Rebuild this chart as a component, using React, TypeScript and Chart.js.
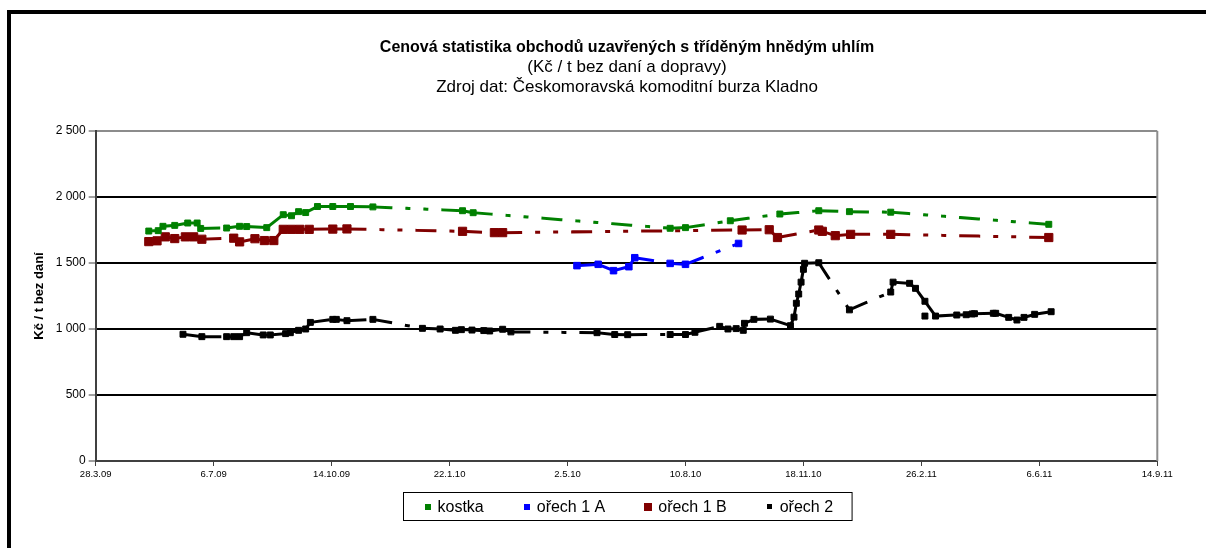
import React, { useEffect, useRef } from 'react';
import { Chart, registerables } from 'chart.js';

Chart.register(...registerables);

const FONT = '"Liberation Sans", Arial, Helvetica, sans-serif';

// ---------------- data ----------------
const START_DATE = '2009-03-28';

const X_TICK_LABELS = ['28.3.09', '6.7.09', '14.10.09', '22.1.10', '2.5.10', '10.8.10', '18.11.10', '26.2.11', '6.6.11', '14.9.11'];
const Y_TICK_LABELS = ['0', '500', '1 000', '1 500', '2 000', '2 500'];

const SERIES_NAMES = ['kostka', 'ořech 1 A', 'ořech 1 B', 'ořech 2'];
const SERIES_COLORS = ['#008000', '#0000ff', '#800000', '#000000'];

const kostkaDates = [
  '2009-05-12', '2009-05-20', '2009-05-24', '2009-06-03', '2009-06-14', '2009-06-22', '2009-06-25',
  '2009-07-17', '2009-07-28', '2009-08-03', '2009-08-20', '2009-09-03', '2009-09-10', '2009-09-16',
  '2009-09-22', '2009-10-02', '2009-10-15', '2009-10-30', '2009-11-18', '2010-02-02', '2010-02-11',
  '2010-07-28', '2010-08-10', '2010-09-17', '2010-10-29', '2010-12-01', '2010-12-27', '2011-01-31',
  '2011-06-14',
];
const kostkaValues = [
  1742, 1745, 1778, 1785, 1803, 1803, 1762,
  1765, 1778, 1776, 1768, 1866, 1858, 1889,
  1882, 1928, 1928, 1928, 1925, 1896, 1881,
  1763, 1768, 1820, 1871, 1896, 1889, 1885,
  1793,
];

const orech1ADates = [
  '2010-05-10', '2010-05-28', '2010-06-10', '2010-06-23', '2010-06-28', '2010-07-28', '2010-08-10', '2010-09-24',
];
const orech1AValues = [1480, 1490, 1442, 1472, 1540, 1497, 1490, 1648];

const orech1BDates = [
  '2009-05-12', '2009-05-19', '2009-05-26', '2009-06-03', '2009-06-12', '2009-06-19', '2009-06-26',
  '2009-07-23', '2009-07-28', '2009-08-10', '2009-08-18', '2009-08-26', '2009-09-03', '2009-09-10',
  '2009-09-17', '2009-09-25', '2009-10-15', '2009-10-27', '2010-02-02', '2010-03-01', '2010-03-08',
  '2010-09-27', '2010-10-20', '2010-10-27', '2010-12-01', '2010-12-04', '2010-12-15', '2010-12-28',
  '2011-01-31', '2011-06-14',
];
const orech1BValues = [
  1662, 1668, 1698, 1685, 1698, 1698, 1680,
  1688, 1660, 1684, 1670, 1670, 1755, 1755,
  1755, 1755, 1757, 1758, 1740, 1730, 1730,
  1750, 1752, 1693, 1750, 1740, 1707, 1717,
  1717, 1693,
];

const orech2Dates = [
  '2009-06-10', '2009-06-26', '2009-07-17', '2009-07-23', '2009-07-28', '2009-08-03', '2009-08-17',
  '2009-08-23', '2009-09-05', '2009-09-09', '2009-09-16', '2009-09-22', '2009-09-26', '2009-10-15',
  '2009-10-18', '2009-10-27', '2009-11-18', '2009-12-30', '2010-01-14', '2010-01-27', '2010-02-01',
  '2010-02-10', '2010-02-20', '2010-02-25', '2010-03-08', '2010-03-15', '2010-05-27', '2010-06-11',
  '2010-06-22', '2010-07-28', '2010-08-10', '2010-08-18', '2010-09-08', '2010-09-15', '2010-09-22',
  '2010-09-28', '2010-09-29', '2010-10-07', '2010-10-21', '2010-11-07', '2010-11-10', '2010-11-12',
  '2010-11-14', '2010-11-16', '2010-11-18', '2010-11-19', '2010-12-01', '2010-12-27', '2011-01-31',
  '2011-02-02', '2011-02-16', '2011-02-21', '2011-03-01', '2011-03-10', '2011-03-28', '2011-04-05',
  '2011-04-10', '2011-04-12', '2011-04-28', '2011-04-30', '2011-05-11', '2011-05-18', '2011-05-24',
  '2011-06-02', '2011-06-16',
];
const orech2Values = [
  960, 942, 942, 942, 942, 972, 955,
  955, 965, 972, 990, 1000, 1050, 1073,
  1073, 1063, 1073, 1005, 1000, 990, 995,
  992, 988, 985, 998, 978, 972, 958,
  957, 958, 958, 975, 1020, 1000, 1003,
  990, 1043, 1073, 1075, 1025, 1090, 1195,
  1265, 1355, 1452, 1498, 1502, 1145, 1280,
  1355, 1346, 1308, 1210, 1098, 1106, 1108,
  1114, 1116, 1119, 1119, 1088, 1068, 1088,
  1111, 1131,
];
// a lone trade drawn without connecting line
const orech2ExtraDates = ['2011-03-01'];
const orech2ExtraValues = [1098];

// ---------------- helpers ----------------
const DAY_MS = 86400000;
function toUTC(s: string) {
  const [y, m, d] = s.split('-').map(Number);
  return Date.UTC(y, m - 1, d);
}
const START_MS = toUTC(START_DATE);
function dayIndex(s: string) {
  return Math.round((toUTC(s) - START_MS) / DAY_MS);
}
function toPoints(dates: string[], values: number[]) {
  return dates.map((d, i) => ({ x: dayIndex(d), y: values[i] }));
}

// Excel "long dash dot dot" that restarts for every segment
const DASH = [18, 16, 2, 16, 2, 16];

function lineDataset(idx: number, dates: string[], values: number[], radius: number) {
  const color = SERIES_COLORS[idx];
  return {
    label: SERIES_NAMES[idx],
    data: toPoints(dates, values),
    borderColor: color,
    backgroundColor: color,
    borderWidth: 3,
    borderDash: DASH,
    borderCapStyle: 'square' as const,
    pointStyle: 'rect' as const,
    pointRadius: radius,
    pointBorderWidth: 1,
    pointBorderColor: color,
    pointBackgroundColor: color,
    tension: 0,
    segment: {
      borderDash: () => DASH,
      borderDashOffset: (c: any) => (c.p0DataIndex % 2 ? 0.01 : 0),
    },
  };
}

const LEGEND_MARKER = [6, 6, 8, 5];

const plotFramePlugin = {
  id: 'plotFrame',
  beforeDatasetsDraw(chart: any) {
    const { ctx, chartArea } = chart;
    ctx.save();
    ctx.strokeStyle = '#8c8c8c';
    ctx.lineWidth = 2;
    ctx.beginPath();
    ctx.moveTo(chartArea.right, chartArea.top);
    ctx.lineTo(chartArea.right, chartArea.bottom);
    ctx.stroke();
    ctx.restore();
  },
};

const boxLegendPlugin = {
  id: 'boxLegend',
  afterDraw(chart: any) {
    const { ctx, chartArea } = chart;
    ctx.save();
    ctx.font = `16px ${FONT}`;
    const widths = SERIES_NAMES.map((n) => ctx.measureText(n).width);
    const padL = 24;
    const markerToText = 10;
    const gap = 43;
    const padR = 19;
    const total = padL + widths.reduce((a, w) => a + markerToText + w, 0) + gap * (SERIES_NAMES.length - 1) + padR;
    const left = Math.round(chart.width / 2 - total / 2) + 0.5;
    const top = Math.round(chartArea.bottom + 31) + 0.5;
    const h = 28;
    ctx.strokeStyle = '#000';
    ctx.lineWidth = 1;
    ctx.strokeRect(left, top, total, h);
    const cy = top + h / 2;
    let cx = left + padL;
    ctx.textBaseline = 'middle';
    ctx.textAlign = 'left';
    SERIES_NAMES.forEach((name, i) => {
      const s = LEGEND_MARKER[i];
      ctx.fillStyle = SERIES_COLORS[i];
      ctx.fillRect(Math.round(cx - s / 2), Math.round(cy - s / 2), s, s);
      ctx.fillStyle = '#000';
      ctx.fillText(name, cx + markerToText, cy + 1);
      cx += markerToText + widths[i] + gap;
    });
    ctx.restore();
  },
};

export default function App() {
  const ref = useRef<HTMLCanvasElement>(null);

  useEffect(() => {
    if (!ref.current) return;
    const extra = lineDataset(3, orech2ExtraDates, orech2ExtraValues, 4.2);
    const chart = new Chart(ref.current, {
      type: 'line',
      data: {
        datasets: [
          lineDataset(0, kostkaDates, kostkaValues, 4.2),
          lineDataset(1, orech1ADates, orech1AValues, 4.6),
          lineDataset(2, orech1BDates, orech1BValues, 5.8),
          lineDataset(3, orech2Dates, orech2Values, 4.2),
          { ...extra, label: '', showLine: false } as any,
        ],
      },
      options: {
        animation: false,
        responsive: false,
        devicePixelRatio: 1,
        layout: { padding: { left: 0, right: 0, top: 0, bottom: 57 } },
        plugins: {
          legend: { display: false },
          tooltip: { enabled: false },
          title: {
            display: true,
            text: 'Cenová statistika obchodů uzavřených s tříděným hnědým uhlím',
            color: '#000',
            font: { family: FONT, size: 16, weight: 'bold', lineHeight: 1.15 },
            padding: { top: 24, bottom: 0 },
          },
          subtitle: {
            display: true,
            text: ['(Kč / t bez daní a dopravy)', 'Zdroj dat: Českomoravská komoditní burza Kladno'],
            color: '#000',
            font: { family: FONT, size: 17, weight: 'normal', lineHeight: 1.15 },
            padding: { top: 1.5, bottom: 34 },
          },
        },
        scales: {
          x: {
            type: 'linear',
            min: 0,
            max: 900,
            ticks: {
              stepSize: 100,
              autoSkip: false,
              maxRotation: 0,
              color: '#000',
              padding: 3,
              font: { family: FONT, size: 9.5 },
              callback: (v: any) => X_TICK_LABELS[Math.round(Number(v) / 100)] ?? '',
            },
            grid: { drawOnChartArea: false, drawTicks: true, tickLength: 5, color: '#404040', lineWidth: 1 },
            border: { display: true, color: '#404040', width: 2 },
            afterFit: (s: any) => {
              s.height = 30;
            },
          },
          y: {
            type: 'linear',
            min: 0,
            max: 2500,
            ticks: {
              stepSize: 500,
              color: '#000',
              padding: 3,
              font: { family: FONT, size: 12 },
              callback: (v: any) => Y_TICK_LABELS[Math.round(Number(v) / 500)] ?? '',
            },
            grid: {
              color: (c: any) => (c.tick && c.tick.value === 2500 ? '#8c8c8c' : c.tick && c.tick.value === 0 ? '#404040' : '#000'),
              lineWidth: 2,
              tickLength: 7,
              tickColor: '#404040',
              tickWidth: 1,
            },
            border: { display: true, color: '#404040', width: 2 },
            title: {
              display: true,
              text: 'Kč / t bez daní',
              color: '#000',
              font: { family: FONT, size: 13, weight: 'bold' },
              padding: { top: 21, bottom: 0 },
            },
            afterFit: (s: any) => {
              s.width = 84.7;
            },
          },
          yRight: {
            type: 'linear',
            position: 'right',
            display: true,
            min: 0,
            max: 2500,
            grid: { display: false },
            border: { display: false },
            ticks: { display: false },
            afterFit: (s: any) => {
              s.width = 85.7;
            },
          },
        },
      } as any,
      plugins: [plotFramePlugin, boxLegendPlugin],
    });
    return () => chart.destroy();
  }, []);

  return (
    <div
      style={{
        position: 'fixed',
        left: 0,
        top: 0,
        width: 1206,
        height: 548,
        overflow: 'hidden',
        background: '#fff',
      }}
    >
      <div
        style={{
          position: 'absolute',
          left: 7,
          top: 10,
          width: 1300,
          height: 600,
          borderLeft: '4px solid #000',
          borderTop: '4px solid #000',
        }}
      />
      <canvas
        ref={ref}
        width={1232}
        height={534}
        style={{ position: 'absolute', left: 11, top: 14, width: 1232, height: 534 }}
      />
    </div>
  );
}
